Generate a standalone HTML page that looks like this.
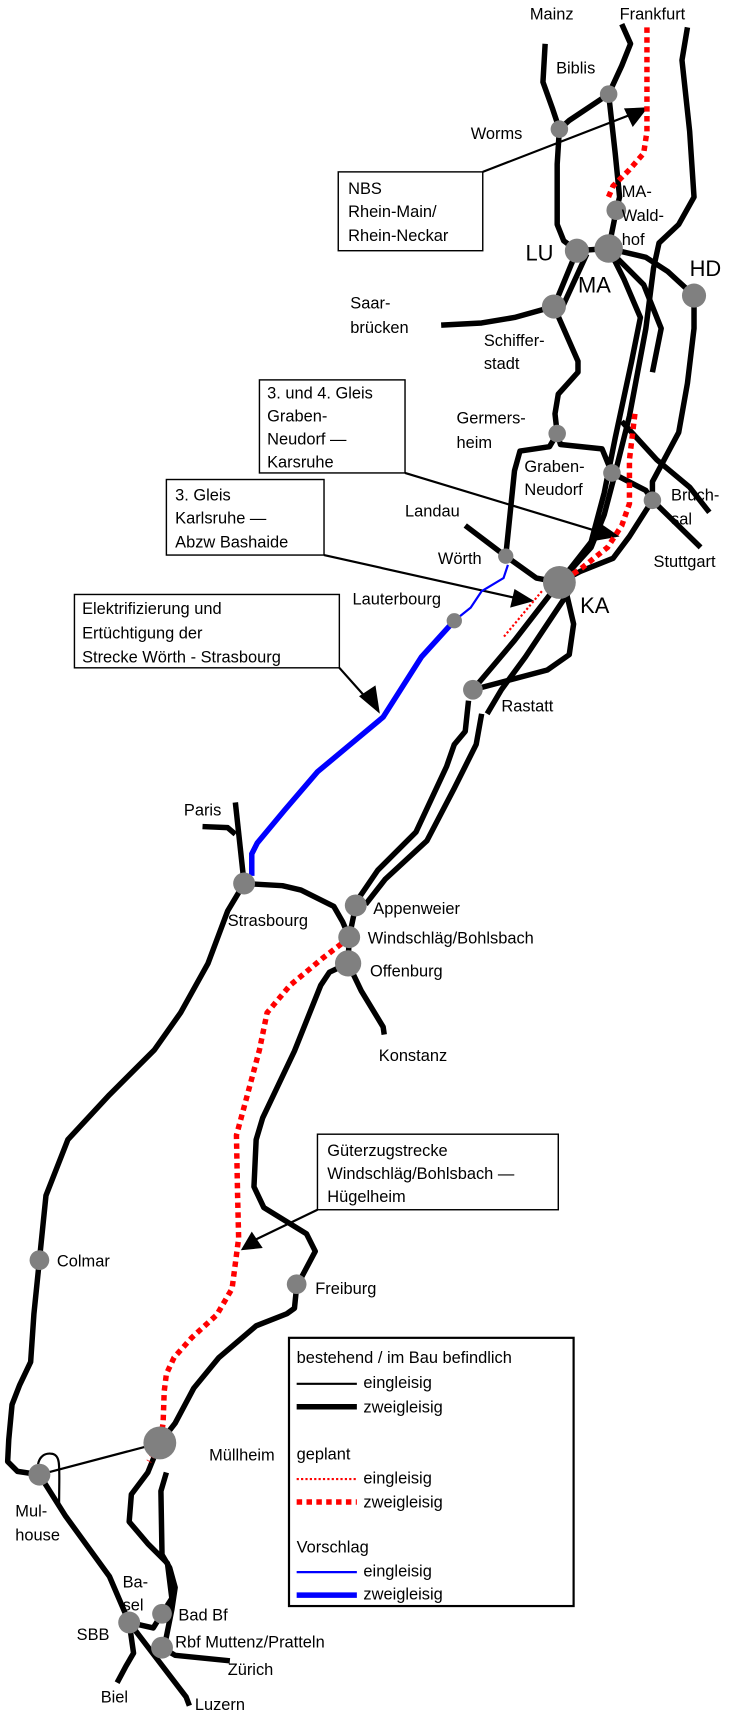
<!DOCTYPE html>
<html><head><meta charset="utf-8"><style>
html,body{margin:0;padding:0;background:#fff;}
svg{display:block;}
text{font-family:"Liberation Sans",sans-serif;font-size:15px;fill:#000;}
.big{font-size:20px;}
</style></head><body>
<svg width="740" height="1721" viewBox="0 0 676 1572" preserveAspectRatio="none" xmlns="http://www.w3.org/2000/svg">
<g fill="none" stroke="#000" stroke-width="5" stroke-linejoin="round" stroke-linecap="butt">
<polyline points="498,40 496,75 505,100 511,118 509,150 509,205 515,220 527,229"/>
<polyline points="568,22 576,40 568,60 556,86 520,110 511,118"/>
<polyline points="556,86 562,140 566,180 563,192 556,227"/>
<polyline points="628,25 623,55 630,120 634,180 620,205 602,222 597,245 590,300 575,380 562,432 552,470 540,500 511,532"/>
<polyline points="556,227 590,235 610,248 634,270"/>
<polyline points="527,229 556,227"/>
<polyline points="527,229 506,280"/>
<polyline points="536,232 514,280"/>
<polyline points="403,297 440,295 470,290 506,280"/>
<polyline points="506,280 528,330 528,340 510,360 507,378 509,396"/>
<polyline points="509,396 502,408 475,412 470,430 462,508"/>
<polyline points="509,396 512,406 550,410 559,432 590,448 596,457"/>
<polyline points="596,457 640,500"/>
<polyline points="568,385 600,420 630,445 648,468"/>
<polyline points="634,270 634,300 628,350 620,395 596,440 596,457 575,490 560,510 530,522 511,532"/>
<polyline points="556,227 570,255 585,290 577,330 562,400 552,450 540,495 522,518 511,532"/>
<polyline points="560,232 588,260 604,300 596,340"/>
<polyline points="425,480 462,508 490,528 511,532"/>
<polyline points="511,532 470,585 432,630"/>
<polyline points="520,540 480,600 458,630 445,652"/>
<polyline points="432,630 500,612 520,598 524,570 517,540"/>
<polyline points="428,640 425,668 415,680 408,700 380,760 345,795 328,820"/>
<polyline points="440,652 435,680 425,700 415,720 390,768 352,803 334,826"/>
<polyline points="185,755 208,756 215,762"/>
<polyline points="215,733 223,807"/>
<polyline points="223,807 258,809 275,813 305,828 313,842 319,856"/>
<polyline points="223,807 208,832 190,880 165,925 141,959 100,1000 62,1041 42,1092 36,1151 31,1200 28,1244 18,1265 11,1283 8,1315 7,1335 16,1344 36,1347"/>
<polyline points="36,1347 60,1385 100,1440 118,1482"/>
<polyline points="325,827 319,856 318,880"/>
<polyline points="318,880 330,905 350,938 351,945"/>
<polyline points="318,880 301,888 293,900 269,960 240,1021 234,1041 232,1084 241,1103 280,1127 288,1143 271,1175 269,1195 262,1200 234,1211 200,1240 177,1268 160,1300 146,1318"/>
<polyline points="146,1318 135,1345 120,1365 118,1390 135,1410 153,1428 157,1460 148,1474"/>
<polyline points="152,1345 147,1362 148,1420 155,1432 160,1450 157,1470 150,1505"/>
<polyline points="118,1482 122,1510 115,1522 107,1537"/>
<polyline points="118,1482 170,1550 173,1558"/>
<polyline points="148,1474 140,1487 118,1482"/>
<polyline points="148,1505 160,1512 210,1517"/>
</g>
<g fill="none" stroke="#000" stroke-width="2">
<polyline points="36,1347 146,1318"/>
<path d="M36,1347 C32,1335 38,1326 48,1328 C56,1330 54,1340 54,1375"/>
<line x1="441" y1="157" x2="578" y2="104"/>
<line x1="370" y1="432" x2="548" y2="486"/>
<line x1="296" y1="507" x2="470" y2="546"/>
<line x1="310" y1="610" x2="335" y2="638"/>
<line x1="290" y1="1105" x2="232" y2="1133"/>
</g>
<g fill="#000">
<polygon points="592,98 570,99 578,116"/>
<polygon points="566,490 547,477 543,494"/>
<polygon points="488,549 470,538 466,555"/>
<polygon points="347,652 328,636 343,626"/>
<polygon points="220,1142 230,1125 240,1140"/>
</g>
<g fill="none" stroke="#f00" stroke-width="5" stroke-dasharray="5,4">
<polyline points="591,25 591,120 588,140 575,155 560,170 555,182"/>
<polyline points="580,378 575,420 575,460 568,480 555,500 530,520 505,536"/>
<polyline points="312,862 295,875 265,900 244,925 237,959 226,1000 216,1037 217,1090 218,1131 212,1177 198,1201 175,1222 159,1240 152,1255 150,1271 149,1300 146,1318 136,1335"/>
</g>
<polyline points="495,540 460,582" fill="none" stroke="#f00" stroke-width="2" stroke-dasharray="2,2"/>
<polyline points="464,516 460,528 440,540 430,555 415,567" fill="none" stroke="#00f" stroke-width="2"/>
<polyline points="415,567 385,600 350,655 320,680 290,705 260,740 235,770 230,780 230,800" fill="none" stroke="#00f" stroke-width="5"/>
<g fill="#808080">
<circle cx="556" cy="86" r="8"/><circle cx="511" cy="118" r="8"/><circle cx="563" cy="192" r="9"/>
<circle cx="527" cy="229" r="11"/><circle cx="556" cy="227" r="13"/><circle cx="634" cy="270" r="11"/>
<circle cx="506" cy="280" r="11"/><circle cx="509" cy="396" r="8"/><circle cx="559" cy="432" r="8"/>
<circle cx="596" cy="457" r="8"/><circle cx="462" cy="508" r="7"/><circle cx="511" cy="532" r="15"/>
<circle cx="415" cy="567" r="7"/><circle cx="432" cy="630" r="9"/><circle cx="223" cy="807" r="10"/>
<circle cx="325" cy="827" r="10"/><circle cx="319" cy="856" r="10"/><circle cx="318" cy="880" r="12"/>
<circle cx="36" cy="1151" r="9"/><circle cx="271" cy="1173" r="9"/><circle cx="146" cy="1318" r="15"/>
<circle cx="36" cy="1347" r="10"/><circle cx="148" cy="1474" r="9"/><circle cx="118" cy="1482" r="10"/>
<circle cx="148" cy="1505" r="10"/>
</g>
<g fill="#fff" stroke="#000" stroke-width="1.3">
<rect x="309" y="157" width="132" height="72"/>
<rect x="237" y="347" width="133" height="85"/>
<rect x="152" y="438" width="144" height="69"/>
<rect x="68" y="543" width="242" height="67"/>
<rect x="290" y="1036" width="220" height="69"/>
<rect x="264" y="1222" width="260" height="245" stroke-width="2"/>
</g>
<g>
<text x="484" y="18">Mainz</text><text x="566" y="18">Frankfurt</text>
<text x="508" y="67">Biblis</text><text x="430" y="127">Worms</text>
<text x="318" y="177">NBS</text><text x="318" y="198">Rhein-Main/</text><text x="318" y="220">Rhein-Neckar</text>
<text x="568" y="180">MA-</text><text x="568" y="202">Wald-</text><text x="568" y="224">hof</text>
<text class="big" x="480" y="238">LU</text><text class="big" x="528" y="267">MA</text><text class="big" x="630" y="252">HD</text>
<text x="320" y="282">Saar-</text><text x="320" y="304">brücken</text>
<text x="442" y="316">Schiffer-</text><text x="442" y="337">stadt</text>
<text x="417" y="387">Germers-</text><text x="417" y="409">heim</text>
<text x="479" y="431">Graben-</text><text x="479" y="452">Neudorf</text>
<text x="613" y="457">Bruch-</text><text x="613" y="479">sal</text>
<text x="597" y="518">Stuttgart</text>
<text x="370" y="472">Landau</text><text x="400" y="515">Wörth</text><text x="322" y="552">Lauterbourg</text>
<text class="big" x="530" y="560">KA</text><text x="458" y="650">Rastatt</text>
<text x="244" y="364">3. und 4. Gleis</text><text x="244" y="385">Graben-</text><text x="244" y="406">Neudorf —</text><text x="244" y="427">Karsruhe</text>
<text x="160" y="457">3. Gleis</text><text x="160" y="478">Karlsruhe —</text><text x="160" y="500">Abzw Bashaide</text>
<text x="75" y="561">Elektrifizierung und</text><text x="75" y="583">Ertüchtigung der</text><text x="75" y="605">Strecke Wörth - Strasbourg</text>
<text x="168" y="745">Paris</text><text x="208" y="846">Strasbourg</text>
<text x="341" y="835">Appenweier</text><text x="336" y="862">Windschläg/Bohlsbach</text>
<text x="338" y="892">Offenburg</text><text x="346" y="969">Konstanz</text>
<text x="299" y="1056">Güterzugstrecke</text><text x="299" y="1077">Windschläg/Bohlsbach —</text><text x="299" y="1098">Hügelheim</text>
<text x="52" y="1157">Colmar</text><text x="288" y="1182">Freiburg</text><text x="191" y="1334">Müllheim</text>
<text x="14" y="1385">Mul-</text><text x="14" y="1407">house</text>
<text x="112" y="1450">Ba-</text><text x="112" y="1471">sel</text>
<text x="163" y="1480">Bad Bf</text><text x="70" y="1498">SBB</text>
<text x="160" y="1505">Rbf Muttenz/Pratteln</text><text x="208" y="1530">Zürich</text>
<text x="92" y="1555">Biel</text><text x="178" y="1562">Luzern</text>
<text x="271" y="1245">bestehend / im Bau befindlich</text>
<text x="332" y="1268">eingleisig</text><text x="332" y="1290">zweigleisig</text>
<text x="271" y="1333">geplant</text>
<text x="332" y="1355">eingleisig</text><text x="332" y="1377">zweigleisig</text>
<text x="271" y="1418">Vorschlag</text>
<text x="332" y="1440">eingleisig</text><text x="332" y="1461">zweigleisig</text>
</g>
<g fill="none">
<line x1="271" y1="1264" x2="326" y2="1264" stroke="#000" stroke-width="2"/>
<line x1="271" y1="1285" x2="326" y2="1285" stroke="#000" stroke-width="5"/>
<line x1="271" y1="1351" x2="326" y2="1351" stroke="#f00" stroke-width="2" stroke-dasharray="2,2"/>
<line x1="271" y1="1372" x2="326" y2="1372" stroke="#f00" stroke-width="5" stroke-dasharray="5,4"/>
<line x1="271" y1="1436" x2="326" y2="1436" stroke="#00f" stroke-width="2"/>
<line x1="271" y1="1457" x2="326" y2="1457" stroke="#00f" stroke-width="5"/>
</g>
</svg>
</body></html>
